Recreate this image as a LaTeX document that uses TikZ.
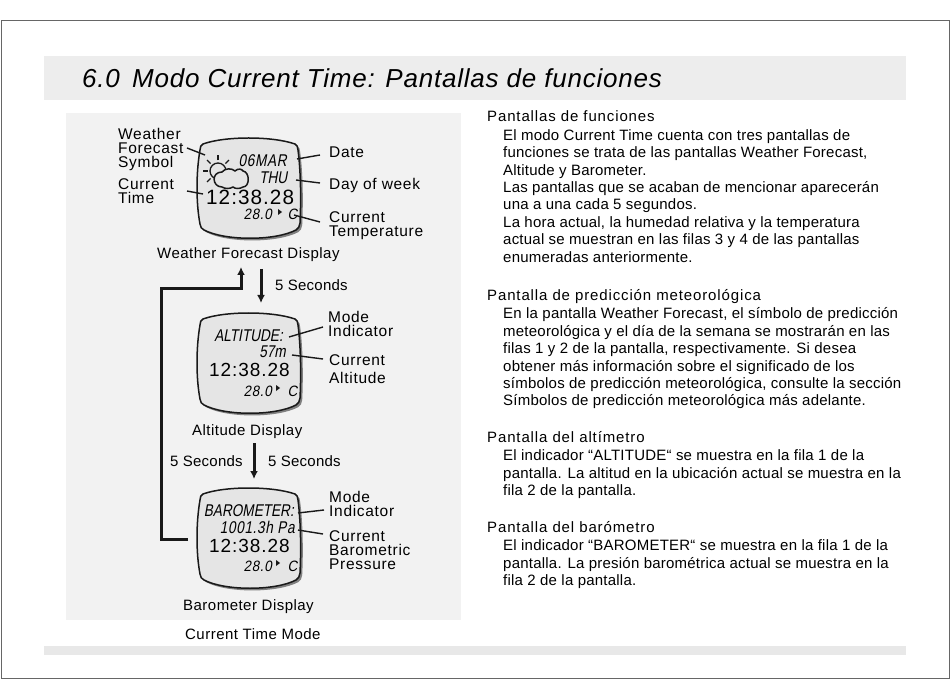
\documentclass[tikz,border=0pt]{standalone}
\usepackage{fontspec}
\usetikzlibrary{arrows.meta}
\setmainfont{Liberation Sans}
\newfontfamily\bodyf[LetterSpace=1.5]{Liberation Sans}
\newfontfamily\headf[LetterSpace=5.8]{Liberation Sans}
\newfontfamily\capf[LetterSpace=3.2]{Liberation Sans}
\newfontfamily\labf[LetterSpace=4.5]{Liberation Sans}
\newfontfamily\titlef[LetterSpace=3]{Liberation Sans}
\newfontfamily\lcdf[FakeStretch=.8,FakeSlant=.18]{Liberation Sans}
\newfontfamily\lcdwf[FakeStretch=.8,FakeSlant=.18,LetterSpace=4]{Liberation Sans}
\newfontfamily\lcdsf[FakeStretch=.9,FakeSlant=.18,LetterSpace=4]{Liberation Sans}
\newfontfamily\clockf[LetterSpace=5]{Liberation Sans}
\tikzset{
  x=1pt,y=-1pt,
  bodytext/.style={anchor=base west,inner sep=0pt,align=left,font=\bodyf\fontsize{15}{17.45}\selectfont},
  headtext/.style={anchor=base west,inner sep=0pt,font=\headf\fontsize{15}{17}\selectfont},
  lab/.style={anchor=base west,inner sep=0pt,align=left,font=\labf\fontsize{15.5}{14}\selectfont},
  labb/.style={anchor=base west,inner sep=0pt,align=left,font=\labf\fontsize{15.5}{18}\selectfont},
  capt/.style={anchor=base west,inner sep=0pt,font=\capf\fontsize{15}{17}\selectfont},
  secs/.style={anchor=base west,inner sep=0pt,font=\bodyf\fontsize{15}{17}\selectfont},
  lcdl/.style={anchor=base east,inner sep=0pt,font=\lcdf\fontsize{17}{17}\selectfont},
  lcdw/.style={anchor=base east,inner sep=0pt,font=\lcdwf\fontsize{17}{17}\selectfont},
  lcds/.style={anchor=base east,inner sep=0pt,font=\lcdsf\fontsize{15}{15}\selectfont},
  clock/.style={anchor=base west,inner sep=0pt,font=\clockf\fontsize{19}{19}\selectfont},
  leader/.style={line width=1.4pt,black!90},
  flow/.style={line width=3pt,black!90,-{Latex[length=8pt,width=8pt]}},
}
\newcommand{\faceshape}{(203,6) .. controls (225,-2) and (272,-2) .. (295,6)
      .. controls (297,7) and (298,9) .. (298,12)
      .. controls (301,35) and (301,65) .. (300,85)
      .. controls (300,88) and (298,91) .. (296,92)
      .. controls (275,103) and (225,103) .. (204,92)
      .. controls (202,91) and (200,89) .. (200,86)
      .. controls (196,65) and (196,35) .. (200,12)
      .. controls (200,9) and (201,7) .. (203,6) -- cycle}
\newcommand{\watchface}[1]{%
  \begin{scope}[yshift=-#1pt]
    \path[fill=black!50,shift={(2.2,2.2)}] \faceshape;
    \path[draw=black!90,line width=1.5pt,fill=black!10] \faceshape;
  \end{scope}}
\begin{document}
\begin{tikzpicture}
\useasboundingbox (0,0) rectangle (950,700);
\fill[white] (0,0) rectangle (950,700);
\draw[black!60,line width=.8pt] (1,20) rectangle (949,678);
\fill[black!7] (44,56) rectangle (906,100);
\fill[black!9] (44,646) rectangle (906,655);
\fill[black!5] (66,113) rectangle (461,620);
\node[anchor=base west,inner sep=0pt,font=\titlef\itshape\fontsize{26}{26}\selectfont] (title) at (82,88) {6.0};
\node[anchor=base west,inner sep=0pt,font=\titlef\itshape\fontsize{26}{26}\selectfont] (titleb) at (132,88) {Modo Current Time: Pantallas de funciones};

% right column
\node[headtext] (h1) at (487,121.7) {Pantallas de funciones};
\node[bodytext] (p1) at (503,262.3) {El modo Current Time cuenta con tres pantallas de\\funciones se trata de las pantallas Weather Forecast,\\Altitude y Barometer.\\Las pantallas que se acaban de mencionar aparecerán\\una a una cada 5 segundos.\\La hora actual, la humedad relativa y la temperatura\\actual se muestran en las filas 3 y 4 de las pantallas\\enumeradas anteriormente.};
\node[headtext] (h2) at (487,300.7) {Pantalla de predicción meteorológica};
\node[bodytext] (p2) at (503,405.9) {En la pantalla Weather Forecast, el símbolo de predicción\\meteorológica y el día de la semana se mostrarán en las\\filas 1 y 2 de la pantalla, respectivamente. Si desea\\obtener más información sobre el significado de los\\símbolos de predicción meteorológica, consulte la sección\\Símbolos de predicción meteorológica más adelante.};
\node[headtext] (h3) at (487,442.7) {Pantalla del altímetro};
\node[bodytext] (p3) at (503,495.6) {El indicador “ALTITUDE“ se muestra en la fila 1 de la\\pantalla. La altitud en la ubicación actual se muestra en la\\fila 2 de la pantalla.};
\node[headtext] (h4) at (487,532.7) {Pantalla del barómetro};
\node[bodytext] (p4) at (503,585.6) {El indicador “BAROMETER“ se muestra en la fila 1 de la\\pantalla. La presión barométrica actual se muestra en la\\fila 2 de la pantalla.};

% watch 1
\watchface{138}
\draw[line width=1.3pt,black!90] (218,171) circle (8);
\foreach \a in {270,225,180,135,315}{\draw[line width=1.4pt,black!90] (218,171) ++(\a:10.5) -- ++(\a:5);}
\path[draw=black!90,line width=1.5pt,fill=black!10]
  (222,187) .. controls (212,187) and (211,172) .. (222,172)
  .. controls (225,168) and (232,168) .. (235,171)
  .. controls (238,168) and (242,169) .. (243,171)
  .. controls (250,172) and (250,187) .. (243,187)
  .. controls (240,189) and (235,189) .. (233,187)
  .. controls (230,189) and (225,189) .. (222,187) -- cycle;
\node[lcdw] (w1a) at (287,167) {06MAR};
\node[lcdl] (w1b) at (287.5,183.5) {THU};
\node[clock,font=\clockf\fontsize{20.7}{20.7}\selectfont] (w1c) at (206,205) {12:38.28};
\node[lcds] (w1d) at (272,220) {28.0};
\fill[black!90] (278,209) -- (282,212) -- (278,215) -- cycle;
\node[lcds] (w1e) at (297.5,220) {C};

\node[lab] (l1) at (118,168) {Weather\\Forecast\\Symbol};
\node[lab] (l2) at (118,204) {Current\\Time};
\node[labb] (l3) at (329,158) {Date};
\node[labb] (l4) at (329,190) {Day of week};
\node[lab,font=\labf\fontsize{15.5}{14.5}\selectfont] (l5) at (329,237) {Current\\Temperature};
\node[capt] (c1) at (157,259) {Weather Forecast Display};
\coordinate (a1) at (187,148); \coordinate (a2) at (205,155);
\coordinate (b1) at (187,191); \coordinate (b2) at (203,194);
\coordinate (d1) at (320,155); \coordinate (d2) at (297,159);
\coordinate (e1) at (320,183); \coordinate (e2) at (296,180);
\coordinate (f1) at (320,222); \coordinate (f2) at (294,215);
\foreach \p/\q in {a1/a2,b1/b2,d1/d2,e1/e2,f1/f2}{\draw[leader] (\p) -- (\q);}

% flow 1
\coordinate (s1) at (261,269); \coordinate (s2) at (261,303);
\draw[flow] (s1) -- (s2);
\node[secs] (t1) at (275,291) {5 Seconds};

% watch 2
\watchface{313}
\node[lcdl] (w2a) at (283,342) {ALTITUDE:};
\node[lcdl] (w2b) at (286,358) {57m};
\node[clock] (w2c) at (209,377) {12:38.28};
\node[lcds] (w2d) at (272,396) {28.0};
\fill[black!90] (276,385) -- (280,388) -- (276,391) -- cycle;
\node[lcds] (w2e) at (297.5,396) {C};
\node[lab] (l6) at (328,337) {Mode\\Indicator};
\node[lab,font=\labf\fontsize{15.5}{18}\selectfont] (l7) at (329,384) {Current\\Altitude};
\node[capt] (c2) at (192,435) {Altitude Display};
\coordinate (g1) at (323,327); \coordinate (g2) at (289,337);
\coordinate (h1c) at (323,359); \coordinate (h2c) at (292,355);
\draw[leader] (g1) -- (g2);
\draw[leader] (h1c) -- (h2c);

% flow 2
\coordinate (s3) at (254,443); \coordinate (s4) at (254,479);
\draw[flow] (s3) -- (s4);
\node[secs] (t2) at (170,466) {5 Seconds};
\node[secs] (t3) at (268,466) {5 Seconds};

% watch 3
\watchface{488}
\node[lcdl] (w3a) at (294,516.5) {BAROMETER:};
\node[lcdw] (w3b) at (295,533) {1001.3h Pa};
\node[clock] (w3c) at (209,552.5) {12:38.28};
\node[lcds] (w3d) at (272,571) {28.0};
\fill[black!90] (276,560) -- (280,563) -- (276,566) -- cycle;
\node[lcds] (w3e) at (297.5,571) {C};
\node[lab] (l8) at (329,516) {Mode\\Indicator};
\node[lab] (l9) at (329,569) {Current\\Barometric\\Pressure};
\node[capt] (c3) at (183,610) {Barometer Display};
\coordinate (i1) at (324,510); \coordinate (i2) at (298,513);
\coordinate (j1) at (323,534); \coordinate (j2) at (298,530);
\draw[leader] (i1) -- (i2);
\draw[leader] (j1) -- (j2);
\node[capt] (c4) at (185,639) {Current Time Mode};

% loop
\coordinate (r1) at (188,539); \coordinate (r2) at (241,267);
\draw[flow] (r1) -- (161,539) -- (161,289) -- (241,289) -- (r2);
\end{tikzpicture}
\end{document}
